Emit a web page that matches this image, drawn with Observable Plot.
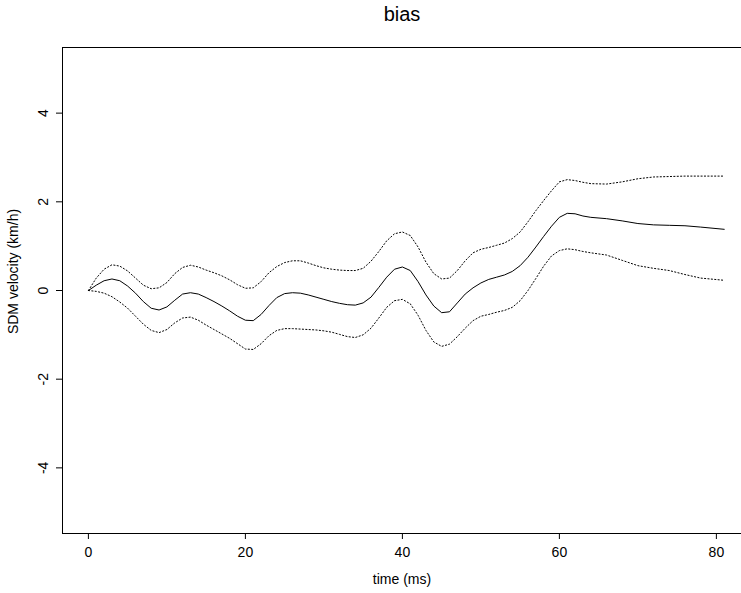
<!DOCTYPE html>
<html>
<head>
<meta charset="utf-8">
<script src="https://cdn.jsdelivr.net/npm/d3@7"></script>
<script src="https://cdn.jsdelivr.net/npm/@observablehq/plot@0.6"></script>
<style>
  html, body { margin: 0; padding: 0; background: #fff; overflow: hidden; }
  #chart svg { display: block; font-family: "Liberation Sans", Arial, Helvetica, sans-serif; }
</style>
</head>
<body>
<div id="chart"></div>
<script>
const title = "bias";
const xLabel = "time (ms)";
const yLabel = "SDM velocity (km/h)";
const xTicks = [0, 20, 40, 60, 80];
const yTicks = [-4, -2, 0, 2, 4];

const time = [0,1,2,3,4,5,6,7,8,9,10,11,12,13,14,15,16,17,18,19,20,21,22,23,24,25,26,27,28,29,30,31,32,33,34,35,36,37,38,39,40,41,42,43,44,45,46,47,48,49,50,51,52,53,54,55,56,57,58,59,60,61,62,63,64,66,68,70,72,74,76,78,81];

const mean = [0,0.12,0.22,0.26,0.22,0.10,-0.06,-0.25,-0.40,-0.44,-0.37,-0.22,-0.08,-0.05,-0.08,-0.16,-0.25,-0.35,-0.46,-0.58,-0.67,-0.68,-0.54,-0.34,-0.16,-0.07,-0.05,-0.06,-0.10,-0.15,-0.20,-0.25,-0.29,-0.32,-0.33,-0.28,-0.15,0.07,0.30,0.48,0.53,0.45,0.20,-0.10,-0.35,-0.50,-0.48,-0.28,-0.08,0.06,0.17,0.25,0.30,0.35,0.43,0.56,0.75,0.98,1.22,1.45,1.65,1.74,1.73,1.68,1.65,1.62,1.57,1.51,1.48,1.47,1.46,1.43,1.38];

const upper = [0,0.28,0.48,0.58,0.55,0.44,0.28,0.12,0.04,0.06,0.18,0.38,0.52,0.57,0.53,0.46,0.40,0.33,0.24,0.13,0.05,0.06,0.20,0.40,0.54,0.63,0.67,0.67,0.62,0.56,0.51,0.48,0.46,0.45,0.45,0.50,0.66,0.88,1.12,1.28,1.32,1.24,0.98,0.64,0.38,0.26,0.28,0.45,0.67,0.85,0.93,0.97,1.02,1.07,1.17,1.32,1.55,1.80,2.03,2.25,2.45,2.50,2.48,2.44,2.41,2.40,2.45,2.52,2.56,2.57,2.58,2.58,2.58];

const lower = [0,-0.02,-0.06,-0.14,-0.26,-0.40,-0.58,-0.76,-0.90,-0.95,-0.88,-0.73,-0.62,-0.60,-0.67,-0.78,-0.88,-0.98,-1.08,-1.20,-1.32,-1.33,-1.20,-1.02,-0.90,-0.86,-0.86,-0.87,-0.88,-0.89,-0.91,-0.94,-0.99,-1.04,-1.06,-1.00,-0.85,-0.62,-0.38,-0.23,-0.20,-0.30,-0.56,-0.90,-1.16,-1.26,-1.21,-1.04,-0.85,-0.68,-0.58,-0.54,-0.49,-0.45,-0.38,-0.23,0.00,0.27,0.55,0.78,0.90,0.94,0.92,0.88,0.85,0.80,0.68,0.56,0.50,0.45,0.36,0.28,0.23];

const rows = (vals) => time.map((t, i) => ({t, v: vals[i]}));

const xDomain = [-3.3, 83.2];
const yDomain = [-5.48, 5.48];

const chart = Plot.plot({
  width: 741,
  height: 593,
  marginLeft: 62,
  marginRight: 0,
  marginTop: 47,
  marginBottom: 60,
  style: {fontFamily: '"Liberation Sans", Arial, Helvetica, sans-serif', background: "#fff"},
  x: {domain: xDomain, axis: null},
  y: {domain: yDomain, axis: null},
  marks: [
    // box (left, top, bottom)
    Plot.ruleX([xDomain[0]], {stroke: "#000", strokeWidth: 1}),
    Plot.ruleY([yDomain[0], yDomain[1]], {stroke: "#000", strokeWidth: 1}),
    // x axis
    Plot.axisX({ticks: xTicks, anchor: "bottom", tickSize: 6, tickPadding: 8, fontSize: 14, label: null, stroke: "#000", color: "#000"}),
    // y axis ticks
    Plot.axisY({ticks: yTicks, anchor: "left", tickSize: 6, tickFormat: () => "", label: null, stroke: "#000"}),
    // y tick labels rotated
    Plot.text(yTicks, {x: xDomain[0], y: d => d, text: d => String(d), rotate: -90, dx: -19, fontSize: 14, fill: "#000", textAnchor: "middle", lineAnchor: "middle"}),
    // curves
    Plot.line(rows(upper), {x: "t", y: "v", stroke: "#000", strokeWidth: 1, strokeDasharray: "1.2,2.2"}),
    Plot.line(rows(lower), {x: "t", y: "v", stroke: "#000", strokeWidth: 1, strokeDasharray: "1.2,2.2"}),
    Plot.line(rows(mean), {x: "t", y: "v", stroke: "#000", strokeWidth: 1}),
    // titles
    Plot.text([title], {text: d => d, frameAnchor: "top", dy: -33, fontSize: 20, fill: "#000", textAnchor: "middle", lineAnchor: "middle"}),
    Plot.text([xLabel], {text: d => d, frameAnchor: "bottom", dy: 46, fontSize: 14, fill: "#000", textAnchor: "middle", lineAnchor: "middle"}),
    Plot.text([yLabel], {text: d => d, frameAnchor: "left", dx: -49, dy: -19, rotate: -90, fontSize: 14, fill: "#000", textAnchor: "middle", lineAnchor: "middle"})
  ]
});
document.getElementById("chart").appendChild(chart);
</script>
</body>
</html>
